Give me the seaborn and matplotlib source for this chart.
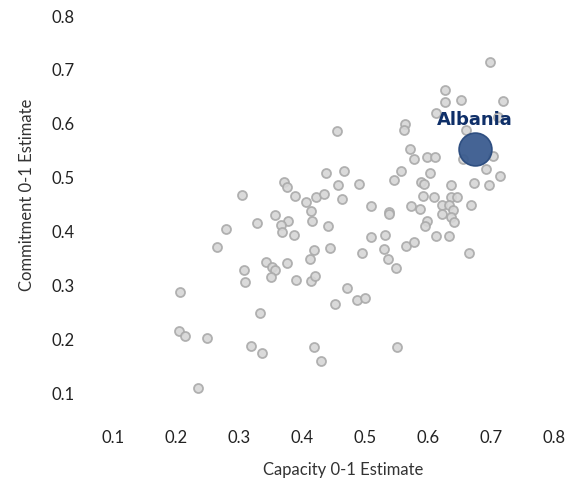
import pandas as pd
import matplotlib
matplotlib.use("Agg")
import matplotlib.pyplot as plt
import seaborn as sns

# Capacity (x) and commitment (y) estimates for all other countries
capacity = [
    0.456, 0.439, 0.467, 0.491, 0.457, 0.371, 0.376, 0.305, 0.389, 0.407,
    0.422, 0.435, 0.463, 0.510, 0.414, 0.358, 0.329, 0.378, 0.367, 0.368,
    0.416, 0.441, 0.387, 0.279, 0.265, 0.510, 0.420, 0.444, 0.413, 0.495,
    0.343, 0.352, 0.358, 0.351, 0.377, 0.308, 0.310, 0.390, 0.414, 0.421,
    0.472, 0.453, 0.488, 0.500, 0.206, 0.334, 0.205, 0.215, 0.250, 0.319,
    0.336, 0.420, 0.430, 0.235,
    0.698, 0.627, 0.627, 0.652, 0.719, 0.613, 0.563, 0.562, 0.712, 0.661,
    0.571, 0.578, 0.599, 0.612, 0.656, 0.703, 0.692, 0.714, 0.557, 0.547,
    0.603, 0.589, 0.594, 0.637, 0.673, 0.697, 0.592, 0.610, 0.637, 0.647,
    0.539, 0.538, 0.573, 0.588, 0.623, 0.634, 0.640, 0.623, 0.637, 0.642,
    0.668, 0.598, 0.595, 0.613, 0.633, 0.532, 0.531, 0.536, 0.549, 0.566,
    0.578, 0.665, 0.551,
]
commitment = [
    0.584, 0.506, 0.511, 0.486, 0.485, 0.490, 0.480, 0.466, 0.464, 0.453,
    0.462, 0.467, 0.459, 0.446, 0.436, 0.428, 0.414, 0.418, 0.410, 0.398,
    0.418, 0.409, 0.391, 0.402, 0.370, 0.388, 0.364, 0.368, 0.347, 0.358,
    0.341, 0.333, 0.326, 0.313, 0.340, 0.327, 0.305, 0.308, 0.307, 0.316,
    0.294, 0.264, 0.271, 0.274, 0.286, 0.247, 0.214, 0.204, 0.201, 0.186,
    0.173, 0.183, 0.157, 0.108,
    0.713, 0.661, 0.639, 0.643, 0.640, 0.619, 0.598, 0.587, 0.610, 0.587,
    0.552, 0.532, 0.537, 0.537, 0.532, 0.538, 0.514, 0.502, 0.511, 0.494,
    0.506, 0.491, 0.487, 0.484, 0.488, 0.485, 0.464, 0.462, 0.463, 0.463,
    0.435, 0.431, 0.446, 0.440, 0.447, 0.448, 0.438, 0.431, 0.426, 0.416,
    0.447, 0.417, 0.409, 0.389, 0.389, 0.391, 0.366, 0.348, 0.331, 0.371,
    0.378, 0.359, 0.183,
]

# Highlighted country
focus_name = "Albania"
focus_capacity = [0.675]
focus_commitment = [0.551]

ticks = [0.1, 0.2, 0.3, 0.4, 0.5, 0.6, 0.7, 0.8]

sns.set_style("white")
plt.rcParams["font.family"] = ["Lato", "DejaVu Sans"]

others = pd.DataFrame({"capacity": capacity, "commitment": commitment})
focus = pd.DataFrame({"capacity": focus_capacity, "commitment": focus_commitment})

fig = plt.figure(figsize=(5.81, 4.89), dpi=100)
ax = fig.add_axes([0.140, 0.141, 0.835, 0.826])

sns.scatterplot(data=others, x="capacity", y="commitment", ax=ax,
                s=42, color="#d6d6d6", edgecolor="#aaaaaa", linewidth=1.3,
                alpha=0.9, zorder=2)
sns.scatterplot(data=focus, x="capacity", y="commitment", ax=ax,
                s=560, color="#3b5c8f", edgecolor="#2a4b7e", linewidth=1.2,
                alpha=0.95, zorder=3)

ax.annotate(focus_name, (focus_capacity[0], focus_commitment[0]),
            xytext=(0, 30), textcoords="offset pixels",
            ha="center", va="center", fontsize=13, fontweight="bold",
            family="DejaVu Sans", color="#0f2f68", zorder=4)

ax.set_xlim(0.05, 0.82)
ax.set_ylim(0.05, 0.80)
ax.set_xticks(ticks)
ax.set_yticks(ticks)
ax.set_xticklabels([f"{t:.1f}" for t in ticks])
ax.set_yticklabels([f"{t:.1f}" for t in ticks])
ax.tick_params(axis="both", length=0, labelsize=12, labelcolor="#222222")
ax.tick_params(axis="x", pad=7)
ax.tick_params(axis="y", pad=5)

ax.set_xlabel("Capacity 0-1 Estimate", fontsize=12, color="#333333")
ax.set_ylabel("Commitment 0-1 Estimate", fontsize=12, color="#333333")
ax.xaxis.set_label_coords(0.539, -0.104)
ax.yaxis.set_label_coords(-0.095, 0.557)

sns.despine(ax=ax, left=True, bottom=True)
ax.grid(False)

fig.savefig("out.png", dpi=100)
